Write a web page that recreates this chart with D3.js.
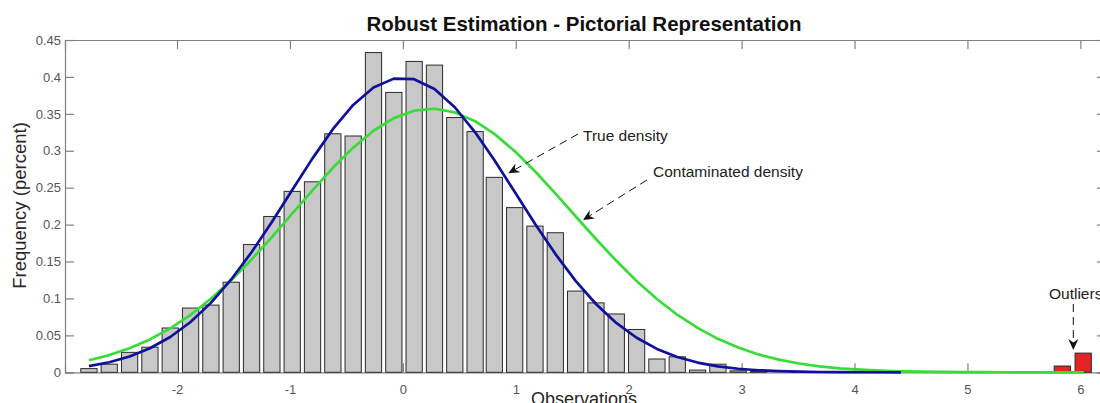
<!DOCTYPE html>
<html>
<head>
<meta charset="utf-8">
<script src="https://cdn.jsdelivr.net/npm/d3@7"></script>
<style>
  body { margin: 0; background: #fff; }
  svg { display: block; font-family: "Liberation Sans", Arial, Helvetica, sans-serif; }
</style>
</head>
<body>
<svg width="1100" height="403"></svg>
<script>
// histogram of the clean sample (bin centres, relative frequency)
const binCenters = [-2.78, -2.60, -2.42, -2.24, -2.06, -1.88, -1.70, -1.52, -1.34, -1.16,
  -0.98, -0.80, -0.62, -0.44, -0.26, -0.08, 0.10, 0.28, 0.46, 0.64,
  0.81, 0.99, 1.17, 1.35, 1.53, 1.71, 1.89, 2.07, 2.25, 2.43,
  2.61, 2.79, 2.97, 3.15, 3.33, 3.51, 3.69, 3.87, 4.05, 4.23, 4.41];
const observedFreq = [0.005, 0.011, 0.027, 0.034, 0.060, 0.087, 0.091, 0.122, 0.173, 0.211,
  0.245, 0.258, 0.323, 0.320, 0.433, 0.379, 0.421, 0.416, 0.345, 0.326,
  0.264, 0.223, 0.198, 0.189, 0.110, 0.094, 0.079, 0.058, 0.018, 0.021,
  0.003, 0.011, 0.002, 0.001, 0, 0.001, 0, 0, 0, 0, 0];

// true density, read at the bin centres
const trueDensity = [0.0084, 0.0136, 0.0213, 0.0325, 0.0478, 0.0681, 0.0940, 0.1257, 0.1626, 0.2036,
  0.2468, 0.2897, 0.3292, 0.3621, 0.3857, 0.3977, 0.3969, 0.3836, 0.3589, 0.3250,
  0.2874, 0.2444, 0.2012, 0.1604, 0.1238, 0.0925, 0.0669, 0.0468, 0.0317, 0.0208,
  0.0132, 0.0081, 0.0048, 0.0028, 0.0016, 0.0008, 0.0004, 0.0002, 0.0001, 0.0001, 0];

// contaminated density
const contamX = binCenters.concat([4.59, 4.77, 4.95, 5.13, 5.31, 5.49, 5.67, 5.85, 6.03]);
const contamDensity = [0.0163, 0.0233, 0.0326, 0.0445, 0.0595, 0.0778, 0.0996, 0.1246, 0.1527, 0.1831,
  0.2148, 0.2465, 0.2769, 0.3042, 0.3271, 0.3442, 0.3543, 0.3569, 0.3520, 0.3400,
  0.3229, 0.2996, 0.2723, 0.2424, 0.2113, 0.1805, 0.1510, 0.1237, 0.0993, 0.0780,
  0.0601, 0.0453, 0.0335, 0.0242, 0.0171, 0.0119, 0.0081, 0.0054, 0.0035, 0.0022,
  0.0014, 0.0009, 0.0005, 0.0003, 0.0002, 0.0001, 0, 0, 0, 0];

// outliers
const outlierCenters = [5.84, 6.025];
const outlierFreq = [0.0085, 0.026];

const xTicks = [-2, -1, 0, 1, 2, 3, 4, 5, 6];
const yTicks = [0, 0.05, 0.1, 0.15, 0.2, 0.25, 0.3, 0.35, 0.4, 0.45];

const svg = d3.select("svg");
const plotLeft = 65, plotRight = 1106, plotTop = 40, plotBottom = 372.3;
const tickLen = 9;

const x = d3.scaleLinear().domain([-2.992, 6.227]).range([plotLeft, plotRight]);
const y = d3.scaleLinear().domain([0, 0.45]).range([plotBottom, plotTop]);
const barW = 0.8 * (binCenters[1] - binCenters[0]);

// axes box (drawn below the data, like MATLAB's default layer)
const axisColor = "#808080";
const axes = svg.append("g").attr("class", "axes");

axes.append("g")
  .attr("transform", `translate(0,${plotBottom})`)
  .call(d3.axisBottom(x).tickValues(xTicks).tickSize(-tickLen).tickPadding(12).tickFormat(d => String(d)));
axes.append("g")
  .attr("transform", `translate(0,${plotTop})`)
  .call(d3.axisTop(x).tickValues(xTicks).tickSize(-tickLen).tickFormat(""));
axes.append("g")
  .attr("transform", `translate(${plotLeft},0)`)
  .call(d3.axisLeft(y).tickValues(yTicks).tickSize(-tickLen).tickPadding(4).tickFormat(d => String(d)));
axes.append("g")
  .attr("transform", `translate(${plotRight},0)`)
  .call(d3.axisRight(y).tickValues(yTicks).tickSize(-tickLen).tickFormat(""));

axes.selectAll(".domain").attr("stroke", axisColor).attr("stroke-width", 1.2);
axes.selectAll(".tick line").attr("stroke", axisColor).attr("stroke-width", 1.2);
axes.selectAll(".tick text")
  .attr("fill", "#555")
  .style("font-size", "13px")
  .style("font-family", "\"Liberation Sans\", Arial, sans-serif");

// histogram bars
svg.append("g")
  .attr("fill", "#c8c8c8")
  .attr("stroke", "#2a2a2a")
  .attr("stroke-width", 1)
  .selectAll("rect")
  .data(binCenters.filter((c, i) => observedFreq[i] > 0))
  .enter()
  .append("rect")
  .attr("x", c => x(c - barW / 2))
  .attr("width", c => x(c + barW / 2) - x(c - barW / 2))
  .attr("y", c => y(observedFreq[binCenters.indexOf(c)]))
  .attr("height", c => plotBottom - y(observedFreq[binCenters.indexOf(c)]));

// outlier bars
svg.append("g")
  .attr("fill", "#e42424")
  .attr("stroke", "#2a2a2a")
  .attr("stroke-width", 1)
  .selectAll("rect")
  .data(outlierCenters)
  .enter()
  .append("rect")
  .attr("x", c => x(c - barW / 2))
  .attr("width", c => x(c + barW / 2) - x(c - barW / 2))
  .attr("y", (c, i) => y(outlierFreq[i]))
  .attr("height", (c, i) => plotBottom - y(outlierFreq[i]));

// density curves
const line = d3.line().x(d => x(d[0])).y(d => y(d[1]));

svg.append("path")
  .datum(contamX.map((v, i) => [v, contamDensity[i]]))
  .attr("fill", "none")
  .attr("stroke", "#38dc38")
  .attr("stroke-width", 2.7)
  .attr("stroke-linejoin", "round")
  .attr("d", line);

svg.append("path")
  .datum(binCenters.map((v, i) => [v, trueDensity[i]]))
  .attr("fill", "none")
  .attr("stroke", "#10109c")
  .attr("stroke-width", 2.7)
  .attr("stroke-linejoin", "round")
  .attr("d", line);

// text arrows (figure coordinates, as MATLAB annotations)
const notes = [
  { label: "True density", tx: 583, ty: 141, x1: 578, y1: 134, x2: 508.3, y2: 173.3 },
  { label: "Contaminated density", tx: 653, ty: 176.5, x1: 647, y1: 180, x2: 583, y2: 220 },
  { label: "Outliers", tx: 1049, ty: 298.5, x1: 1073.3, y1: 304, x2: 1073.3, y2: 350 }
];

const notesG = svg.append("g");
notes.forEach(n => {
  const ang = Math.atan2(n.y2 - n.y1, n.x2 - n.x1);
  const headLen = 11, headW = 5, notch = 3.5;
  const bx = n.x2 - headLen * Math.cos(ang), by = n.y2 - headLen * Math.sin(ang);
  notesG.append("line")
    .attr("x1", n.x1).attr("y1", n.y1)
    .attr("x2", n.x2 - (headLen - notch) * Math.cos(ang))
    .attr("y2", n.y2 - (headLen - notch) * Math.sin(ang))
    .attr("stroke", "#111")
    .attr("stroke-width", 1)
    .attr("stroke-dasharray", "8,5");
  const px = -Math.sin(ang), py = Math.cos(ang);
  const pts = [
    [n.x2, n.y2],
    [bx + headW * px, by + headW * py],
    [n.x2 - (headLen - notch) * Math.cos(ang), n.y2 - (headLen - notch) * Math.sin(ang)],
    [bx - headW * px, by - headW * py]
  ];
  notesG.append("polygon")
    .attr("points", pts.map(p => p.join(",")).join(" "))
    .attr("fill", "#111");
  notesG.append("text")
    .attr("x", n.tx)
    .attr("y", n.ty)
    .attr("fill", "#222")
    .style("font-size", "15.5px")
    .text(n.label);
});

// titles
svg.append("text")
  .attr("x", 584)
  .attr("y", 30.5)
  .attr("text-anchor", "middle")
  .attr("fill", "#111")
  .style("font-size", "20.5px")
  .style("font-weight", "bold")
  .text("Robust Estimation - Pictorial Representation");

svg.append("text")
  .attr("x", 584)
  .attr("y", 405)
  .attr("text-anchor", "middle")
  .attr("fill", "#262626")
  .style("font-size", "18px")
  .text("Observations");

svg.append("text")
  .attr("transform", "translate(26,205.5) rotate(-90)")
  .attr("text-anchor", "middle")
  .attr("fill", "#262626")
  .style("font-size", "18.5px")
  .text("Frequency (percent)");
</script>
</body>
</html>
